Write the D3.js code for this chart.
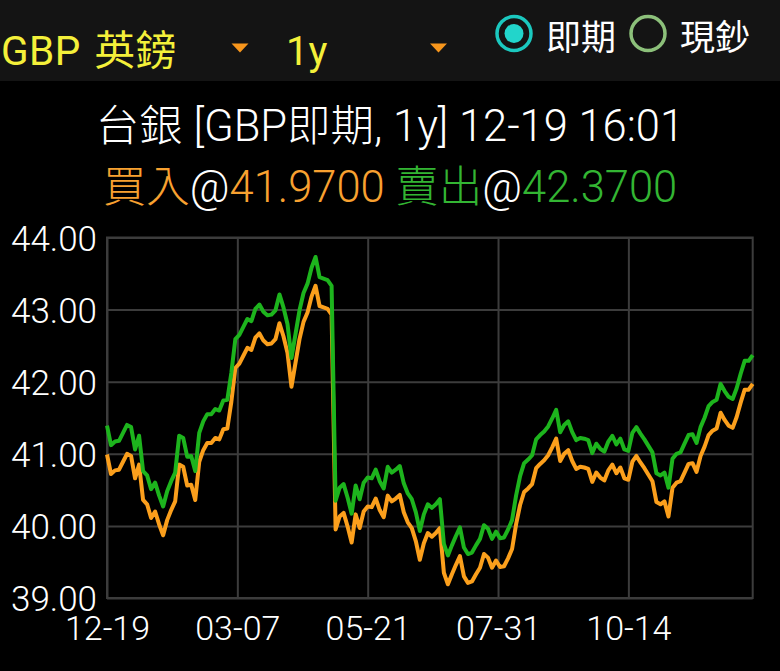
<!DOCTYPE html>
<html>
<head>
<meta charset="utf-8">
<script src="https://cdn.jsdelivr.net/npm/d3@7"></script>
<style>
  body { margin: 0; background: #000; }
  svg { display: block; font-family: "Roboto", "Noto Sans CJK TC", sans-serif; }
</style>
</head>
<body>
<svg id="chart" width="780" height="671"></svg>
<script>
// GBP 即期 1y, Bank of Taiwan - buy / sell rates (about every 1.5 trading days)
const buyRates = [
  40.99, 40.72, 40.77, 40.78, 40.89, 41.00, 40.97, 40.66, 40.85, 40.36,
  40.30, 40.11, 40.20, 40.02, 39.87, 40.08, 40.22, 40.34, 40.85, 40.82,
  40.56, 40.57, 40.36, 40.89, 41.05, 41.15, 41.15, 41.22, 41.20, 41.34,
  41.35, 41.72, 42.19, 42.25, 42.36, 42.47, 42.44, 42.61, 42.67, 42.57,
  42.52, 42.53, 42.59, 42.81, 42.63, 42.40, 41.93, 42.26, 42.59, 42.83,
  42.96, 43.18, 43.33, 43.05, 43.03, 43.01, 42.93, 39.95, 40.13, 40.18,
  39.99, 39.77, 40.16, 39.97, 40.20, 40.27, 40.26, 40.38, 40.22, 40.12,
  40.42, 40.34, 40.38, 40.43, 40.19, 40.05, 39.97, 39.79, 39.53, 39.76,
  39.90, 39.85, 39.90, 39.97, 39.35, 39.19, 39.33, 39.46, 39.58, 39.30,
  39.21, 39.23, 39.33, 39.42, 39.61, 39.56, 39.42, 39.52, 39.43, 39.44,
  39.55, 39.68, 40.02, 40.29, 40.47, 40.52, 40.58, 40.80, 40.86, 40.91,
  40.98, 41.09, 41.21, 40.90, 41.00, 41.05, 40.90, 40.79, 40.82, 40.81,
  40.79, 40.61, 40.74, 40.67, 40.63, 40.77, 40.85, 40.73, 40.81, 40.66,
  40.64, 40.89, 40.97, 40.88, 40.80, 40.71, 40.62, 40.33, 40.30, 40.34,
  40.13, 40.53, 40.60, 40.62, 40.74, 40.86, 40.87, 40.75, 40.97, 41.10,
  41.26, 41.32, 41.35, 41.57, 41.47, 41.39, 41.36, 41.51, 41.71, 41.89,
  41.89, 41.97
];
const sellRates = [
  41.39, 41.12, 41.17, 41.18, 41.29, 41.40, 41.37, 41.06, 41.25, 40.76,
  40.70, 40.51, 40.60, 40.42, 40.27, 40.48, 40.62, 40.74, 41.25, 41.22,
  40.96, 40.97, 40.76, 41.29, 41.45, 41.55, 41.55, 41.62, 41.60, 41.74,
  41.75, 42.12, 42.59, 42.65, 42.76, 42.87, 42.84, 43.01, 43.07, 42.97,
  42.92, 42.93, 42.99, 43.21, 43.03, 42.80, 42.33, 42.66, 42.99, 43.23,
  43.36, 43.58, 43.73, 43.45, 43.43, 43.41, 43.33, 40.35, 40.53, 40.58,
  40.39, 40.17, 40.56, 40.37, 40.60, 40.67, 40.66, 40.78, 40.62, 40.52,
  40.82, 40.74, 40.78, 40.83, 40.59, 40.45, 40.37, 40.19, 39.93, 40.16,
  40.30, 40.25, 40.30, 40.37, 39.75, 39.59, 39.73, 39.86, 39.98, 39.70,
  39.61, 39.63, 39.73, 39.82, 40.01, 39.96, 39.82, 39.92, 39.83, 39.84,
  39.95, 40.08, 40.42, 40.69, 40.87, 40.92, 40.98, 41.20, 41.26, 41.31,
  41.38, 41.49, 41.61, 41.30, 41.40, 41.45, 41.30, 41.19, 41.22, 41.21,
  41.19, 41.01, 41.14, 41.07, 41.03, 41.17, 41.25, 41.13, 41.21, 41.06,
  41.04, 41.29, 41.37, 41.28, 41.20, 41.11, 41.02, 40.73, 40.70, 40.74,
  40.53, 40.93, 41.00, 41.02, 41.14, 41.26, 41.27, 41.15, 41.37, 41.50,
  41.66, 41.72, 41.75, 41.97, 41.87, 41.79, 41.76, 41.91, 42.11, 42.29,
  42.29, 42.37
];

// x tick labels and where they sit in the series
const tickLabels = ["12-19", "03-07", "05-21", "07-31", "10-14"];
const tickIdx = [0, 32.5, 65, 97.5, 130];
const yTicks = [39, 40, 41, 42, 43, 44];

const lastBuy = "41.9700";
const lastSell = "42.3700";

const svg = d3.select("#chart");
const plotLeft = 107, plotRight = 752.7, plotTop = 237.5, plotBottom = 598;
const fontStack = '"Roboto", "Noto Sans CJK TC", sans-serif';

const x = d3.scaleLinear().domain([0, buyRates.length - 1]).range([plotLeft, plotRight]);
const y = d3.scaleLinear().domain([39, 44]).range([plotBottom, plotTop]);

// top bar
svg.append("rect")
    .attr("x", 0).attr("y", 0)
    .attr("width", 780).attr("height", 81)
    .attr("fill", "#141414");

svg.append("text")
    .attr("x", 1).attr("y", 65)
    .attr("fill", "#f4f03a")
    .style("font-size", "40.5px")
    .style("letter-spacing", "0.5px")
    .style("word-spacing", "3px")
    .text("GBP 英鎊");

svg.append("text")
    .attr("x", 286).attr("y", 65)
    .attr("fill", "#f4f03a")
    .style("font-size", "40px")
    .text("1y");

// dropdown arrows
[240, 438.5].forEach(cx => {
    svg.append("path")
        .attr("d", `M${cx - 8.5},43.5 L${cx + 8.5},43.5 L${cx},52.5 Z`)
        .attr("fill", "#f7961c");
});

// radio buttons
svg.append("circle")
    .attr("cx", 514).attr("cy", 33.5).attr("r", 17)
    .attr("fill", "none").attr("stroke", "#1bc8bf").attr("stroke-width", 3.5);
svg.append("circle")
    .attr("cx", 514).attr("cy", 33.5).attr("r", 9.5)
    .attr("fill", "#22d5cb");
svg.append("text")
    .attr("x", 546).attr("y", 50)
    .attr("fill", "#fff")
    .style("font-size", "35px")
    .text("即期");

svg.append("circle")
    .attr("cx", 648).attr("cy", 33.5).attr("r", 17)
    .attr("fill", "none").attr("stroke", "#8cc07a").attr("stroke-width", 3.5);
svg.append("text")
    .attr("x", 680).attr("y", 50)
    .attr("fill", "#fff")
    .style("font-size", "35px")
    .text("現鈔");

// title lines
svg.append("text")
    .attr("x", 390).attr("y", 141)
    .attr("text-anchor", "middle")
    .attr("fill", "#fff")
    .style("font-size", "43.5px")
    .style("font-weight", 300)
    .text("台銀 [GBP即期, 1y] 12-19 16:01");

const sub = svg.append("text")
    .attr("x", 390).attr("y", 202)
    .attr("text-anchor", "middle")
    .style("font-size", "43.5px")
    .style("font-weight", 300);
sub.append("tspan").attr("fill", "#f8a130").text("買入");
sub.append("tspan").attr("fill", "#fff").text("@");
sub.append("tspan").attr("fill", "#f8a130").text(lastBuy);
sub.append("tspan").attr("fill", "#33b533").text(" 賣出");
sub.append("tspan").attr("fill", "#fff").text("@");
sub.append("tspan").attr("fill", "#33b533").text(lastSell);

// grid + y labels
const yAxis = svg.append("g")
    .attr("transform", `translate(${plotLeft},0)`)
    .call(d3.axisLeft(y)
        .tickValues(yTicks)
        .tickFormat(d3.format(".2f"))
        .tickSize(-(plotRight - plotLeft))
        .tickPadding(10))
    .attr("font-family", fontStack);
yAxis.select(".domain").remove();
yAxis.selectAll("line").attr("stroke", "#3c3c3c").attr("stroke-width", 2);
yAxis.selectAll("text")
    .attr("fill", "#fff")
    .style("font-size", "35px")
    .style("font-weight", 300)
    .attr("dy", "0.36em");

const xAxis = svg.append("g")
    .attr("transform", `translate(0,${plotBottom})`)
    .call(d3.axisBottom(x)
        .tickValues(tickIdx)
        .tickFormat((d, i) => tickLabels[i])
        .tickSize(-(plotBottom - plotTop)))
    .attr("font-family", fontStack);
xAxis.select(".domain").remove();
xAxis.selectAll("line").attr("stroke", "#3c3c3c").attr("stroke-width", 2);
xAxis.selectAll("text")
    .attr("fill", "#fff")
    .attr("y", 42)
    .attr("dy", null)
    .style("font-size", "34px")
    .style("font-weight", 300);

svg.append("rect")
    .attr("x", plotLeft).attr("y", plotTop)
    .attr("width", plotRight - plotLeft).attr("height", plotBottom - plotTop)
    .attr("fill", "none")
    .attr("stroke", "#3c3c3c")
    .attr("stroke-width", 2);

// rate lines
const line = d3.line()
    .x((d, i) => x(i))
    .y(d => y(d));

svg.append("path")
    .datum(buyRates)
    .attr("fill", "none")
    .attr("stroke", "#fb9f1c")
    .attr("stroke-width", 4)
    .attr("stroke-linejoin", "round")
    .attr("d", line);

svg.append("path")
    .datum(sellRates)
    .attr("fill", "none")
    .attr("stroke", "#1db41d")
    .attr("stroke-width", 4)
    .attr("stroke-linejoin", "round")
    .attr("d", line);
</script>
</body>
</html>
